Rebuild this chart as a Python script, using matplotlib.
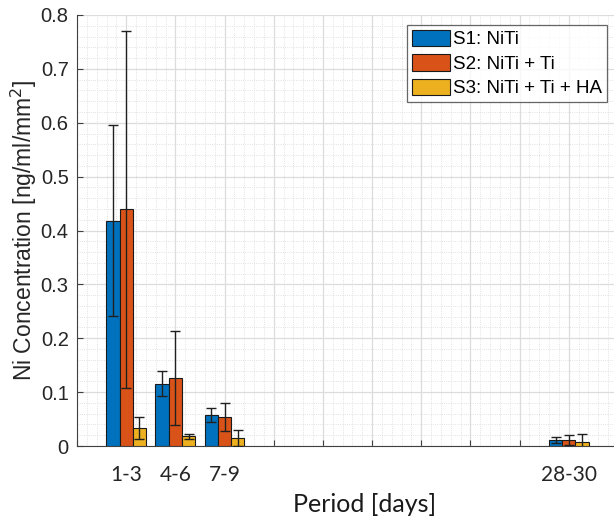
import matplotlib
matplotlib.use("Agg")
import matplotlib.pyplot as plt
import numpy as np
from matplotlib.ticker import MultipleLocator

# Data
periods = ["1-3", "4-6", "7-9", "28-30"]
positions = [1, 2, 3, 10]
series = ["S1: NiTi", "S2: NiTi + Ti", "S3: NiTi + Ti + HA"]
s1_mean = [0.418, 0.116, 0.058, 0.011]
s1_err = [0.177, 0.023, 0.013, 0.005]
s2_mean = [0.439, 0.126, 0.054, 0.011]
s2_err = [0.331, 0.087, 0.026, 0.009]
s3_mean = [0.033, 0.018, 0.015, 0.008]
s3_err = [0.020, 0.005, 0.015, 0.015]
colors = ["#0072BD", "#D95319", "#EDB120"]

plt.rcParams['font.family'] = ['Liberation Sans', 'DejaVu Sans']

fig = plt.figure(figsize=(6.14, 5.23), dpi=100)
ax = fig.add_axes([77/614, 77/523, 541/614, 431/523])

width = 0.27
offsets = [-width, 0, width]
means = [s1_mean, s2_mean, s3_mean]
errs = [s1_err, s2_err, s3_err]
x = np.array(positions, dtype=float)
for i in range(3):
    ax.bar(x + offsets[i], means[i], width, color=colors[i], edgecolor='#1a1a1a',
           linewidth=0.8, label=series[i], zorder=3)
    ax.errorbar(x + offsets[i], means[i], yerr=errs[i], fmt='none', ecolor='#202020',
                elinewidth=1.0, capsize=3.5, capthick=1.0, zorder=4)

ax.set_xlim(0, 11)
ax.set_ylim(0, 0.8)
ax.set_xticks(range(0, 12))
ax.set_xticklabels(['' if k not in positions else periods[positions.index(k)] for k in range(0, 12)],
                   family=['Lato', 'DejaVu Sans'], fontsize=15)
ax.set_yticks(np.arange(0, 0.81, 0.1))
ax.set_yticklabels(['0'] + ['%.1f' % v for v in np.arange(0.1, 0.81, 0.1)], fontsize=14.5)
ax.xaxis.set_minor_locator(MultipleLocator(0.2))
ax.yaxis.set_minor_locator(MultipleLocator(0.02))

ax.tick_params(axis='both', which='major', direction='in', length=4, color='#404040', colors='#262626')
ax.tick_params(axis='both', which='minor', length=0)
ax.tick_params(axis='x', pad=14)
ax.tick_params(axis='y', pad=6)

ax.grid(True, which='major', color='#dcdcdc', linewidth=0.9, zorder=0)
ax.grid(True, which='minor', color='#d8d8d8', linestyle=':', linewidth=0.6, zorder=0)
ax.set_axisbelow(True)

for s in ['top', 'right']:
    ax.spines[s].set_visible(False)
for s in ['left', 'bottom']:
    ax.spines[s].set_color('#404040')

ax.set_ylabel('Ni Concentration [ng/ml/mm$^2$]', fontsize=16.5, color='#262626')
ax.yaxis.set_label_coords(-0.07, 0.5)
ax.set_xlabel('Period [days]', family=['Lato', 'DejaVu Sans'], fontsize=18, color='#1a1a1a')
ax.xaxis.set_label_coords((365 - 77) / 541, -0.108)

leg = ax.legend(loc='upper right', bbox_to_anchor=((607 - 77) / 541, (431 - 10) / 431),
                fontsize=13.5, frameon=True, fancybox=False, edgecolor='#404040',
                handlelength=2.0, handleheight=1.0, handletextpad=0.2,
                labelspacing=0.3, borderpad=0.25, borderaxespad=0)
leg.get_frame().set_linewidth(0.9)

fig.savefig('out.png', dpi=100, facecolor='white')
